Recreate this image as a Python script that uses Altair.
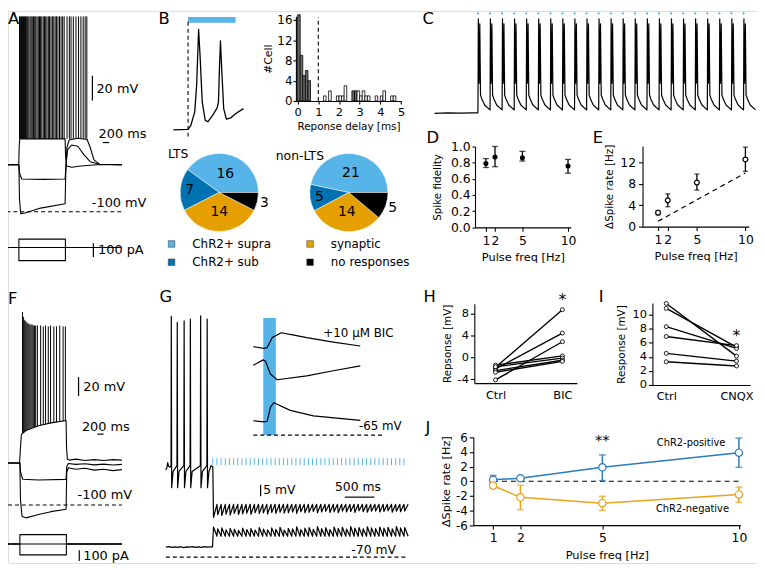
import math
import altair as alt
import pandas as pd

FONT = "DejaVu Sans"
W, H = 757, 558
M = 8
BLACK = "#000000"
SKY = "#56B4E9"
NAVY = "#0072B2"
ORANGE = "#E69F00"
J_BLUE = "#2B7CB9"
J_ORANGE = "#E9A41C"
HIST_GRAY = "#6b6b6b"
HYPHEN_LABELS = "replace(datum.label, '\u2212', '-')"

# ======================= DATA =======================
# ---- A : LTS cell, current steps (t ms, v mV) ----
A_dep = [(-400, -62), (-5, -62), (10, -47), (30, -41), (1490, -41), (1505, -55), (1540, -63),
         (1700, -64), (2000, -63), (2500, -62), (3320, -62)]
A_mid = [(-400, -62), (0, -62), (25, -69), (90, -73.5), (800, -73.8), (1490, -73.5), (1520, -62),
         (1570, -50), (1700, -46), (1900, -47), (2100, -54), (2300, -59.5), (2600, -61.5), (3320, -62)]
A_hyp = [(-400, -62), (0, -62), (20, -90), (60, -101.5), (200, -101), (700, -97), (1490, -93.5),
         (1510, -70), (1550, -48), (1620, -42), (1900, -40.5), (2200, -41.5), (2300, -48),
         (2420, -58), (2600, -61.5), (3320, -62)]
A_step_spikes = [20, 50, 85, 115, 150, 180, 215, 250, 285, 320, 360, 395, 430, 470, 510, 545, 585,
                 625, 665, 700, 740, 785, 825, 865, 905, 950, 990, 1035, 1080, 1125, 1170, 1215,
                 1260, 1310, 1360, 1410, 1460]
A_rebound_spikes = [1553, 1627, 1681, 1755, 1841, 1924, 2000, 2073, 2137, 2191]
A_spike_base, A_spike_peak = -41, 58
A_cur_pos = [(-400, 0), (0, 0), (0, 60), (1500, 60), (1500, 0), (3320, 0)]
A_cur_zero = [(-400, 0), (3320, 0)]
A_cur_neg = [(-400, 0), (0, 0), (0, -95), (1500, -95), (1500, 0), (3320, 0)]

# ---- F : non-LTS cell ----
F_dep = [(-380, -56), (-10, -56), (15, -42), (50, -26), (200, -22), (600, -17), (1000, -14),
         (1490, -11.5), (1505, -40), (1530, -52), (1600, -53), (1800, -52), (2100, -53.5),
         (2400, -52.5), (2700, -53.5), (3000, -52.5), (3290, -53)]
F_mid = [(-380, -56), (0, -56), (25, -66), (90, -73), (600, -73.8), (1490, -73.2), (1510, -60),
         (1560, -56.5), (1800, -57.5), (2100, -56.8), (2400, -58), (2700, -57.2), (3000, -58.2),
         (3290, -57.5)]
F_hyp = [(-380, -56), (0, -56), (20, -95), (70, -112), (200, -113.5), (600, -110), (1000, -107),
         (1490, -104.5), (1510, -66), (1560, -61), (1800, -62.5), (2100, -61.5), (2400, -63.5),
         (2700, -62.5), (3000, -64), (3290, -63)]
F_spike_t = [86, 112, 140, 168, 198, 228, 260, 292, 326, 360, 396, 432, 470, 510,
             565, 670, 756, 829, 916, 989, 1095, 1180, 1286, 1394, 1467]
F_spike_base = [-25, -24, -23, -22.5, -22, -21.5, -21, -20.5, -20, -19.5, -19, -18.5, -18.5, -18,
                -17.5, -16.5, -16, -15.5, -15, -14.5, -14, -13.5, -13, -12.5, -12]
F_spike_peak = [102, 97, 94, 93, 92, 91, 90, 90, 89, 89, 89, 88, 88, 88,
                88, 88, 87, 88, 87, 88, 87, 87, 88, 87, 87]
F_cur_pos = [(-380, 0), (0, 0), (0, 88), (1500, 88), (1500, 0), (3290, 0)]
F_cur_zero = [(-380, 0), (3290, 0)]
F_cur_neg = [(-380, 0), (0, 0), (0, -103), (1500, -103), (1500, 0), (3290, 0)]

# ---- B : ChR2 response (t ms, v mV) and latency histogram ----
B_trace = [(-1.56, -65.3), (0, -64.7), (0.28, -61), (0.7, -47), (0.9, -20.3), (1.11, 36.3),
           (1.28, 6.3), (1.49, -37), (1.8, -55.3), (2.08, -57), (2.6, -50.3), (3.06, -43),
           (3.2, -37), (3.3, -3.7), (3.41, 24.7), (3.54, -3.7), (3.75, -43.7), (4.03, -54.3),
           (4.51, -53), (5.03, -48.7), (5.83, -43.7)]
B_light = (0, 5)
HIST_START = [0.0, 0.125, 0.25, 0.375, 0.5, 1.25, 1.5, 1.875, 2.0, 2.125, 2.25, 2.625, 2.75,
              2.875, 3.0, 3.125, 3.25, 3.375, 3.75, 4.0, 4.125, 4.5, 4.625]
HIST_COUNT = [17, 9, 5, 6, 4, 1, 2, 1, 1, 1, 3, 2, 2, 2, 1, 2, 1, 1, 1, 1, 2, 1, 1]
HIST_FILLED = [1, 1, 1, 1, 1, 0, 0, 0, 0, 0, 0, 1, 1, 0, 0, 0, 0, 0, 0, 0, 0, 0, 0]
HIST_BIN = 0.125

PIE_CATS = ["ChR2+ supra", "ChR2+ sub", "synaptic", "no responses"]
PIE_COLORS = [SKY, NAVY, ORANGE, BLACK]
PIE_ORDER = [3, 2, 1, 0]
LTS_COUNTS = [16, 7, 14, 3]
NONLTS_COUNTS = [21, 5, 14, 5]

# ---- C : 10 Hz train ----
C_pulses = [0, 100, 200, 300, 400, 500, 600, 700, 800, 900, 1000, 1100, 1200, 1300, 1400, 1500,
            1600, 1700, 1800, 1900, 2000, 2100, 2200]
C_wave = [(0, -67), (3, 25), (9, -40), (15, 20), (21, -52), (32, -56), (55, -62), (99, -67)]
C_pre = [(-360, -70.5), (-250, -70), (-150, -70.3), (-50, -70), (-2, -70)]

# ---- D / E ----
FREQ = [1, 2, 5, 10]
D_mean = [0.79, 0.87, 0.86, 0.76]
D_lo = [0.74, 0.75, 0.82, 0.67]
D_hi = [0.85, 1.0, 0.94, 0.84]
E_mean = [2.6, 4.9, 8.2, 12.5]
E_lo = [2.2, 3.7, 6.8, 10.3]
E_hi = [3.0, 6.1, 9.8, 14.8]
E_unity = [(1, 1), (10, 10)]

# ---- G : ChR2-pos / ChR2-neg at 14 Hz ----
G_pulses = [0, 70, 140, 210, 280, 350, 420, 490, 560, 630, 700, 770, 840, 910, 980, 1050, 1120,
            1190, 1260, 1330, 1400, 1470, 1540, 1610, 1680, 1750, 1820, 1890, 1960, 2030, 2100,
            2170, 2240, 2310, 2380, 2450, 2520, 2590, 2660, 2730, 2800, 2870, 2940, 3010, 3080,
            3150, 3220]
G_up_pre = [(-795, -32.3), (-775, -31.6), (-760, -29.2), (-745, -30.8), (-720, -31.2)]
G_up_spikes = [-699, -599, -483, -378, -205, -95]
G_up_peaks = [34.0, 31.4, 32.1, 32.8, 34.2, 32.8]
G_up_post = [(-30, -30.5), (0, -31)]
G_up_amp = [5.7, 4.5, 4.8, 4.2, 4.6, 3.9, 4.4, 4.1, 3.8, 4.3, 3.6, 4.0, 3.7, 4.2, 3.5, 3.9, 3.4,
            3.8, 3.6, 3.3, 3.9, 3.2, 3.6, 3.4, 3.1, 3.7, 3.3, 3.0, 3.5, 3.2, 3.6, 2.9, 3.3, 3.1,
            3.5, 2.8, 3.2, 3.4, 3.0, 2.9, 3.3, 3.1, 2.8, 3.4, 3.0, 3.2, 2.9]
G_up_rest = -47.2
G_lo_pre = [(-790, -65.7), (-740, -65.5), (-690, -65.8), (-640, -65.6), (-590, -65.8),
            (-540, -65.5), (-490, -65.9), (-440, -65.6), (-390, -65.7), (-340, -65.5),
            (-290, -65.8), (-240, -65.6), (-190, -65.8), (-140, -65.5), (-90, -65.7),
            (-40, -65.6), (-5, -65.6)]
G_lo_amp = [4.0, 3.2, 3.6, 2.8, 3.4, 3.0, 2.6, 3.5, 2.9, 3.3, 2.7, 3.8, 3.1, 2.8, 3.6, 3.0, 3.9,
            2.7, 3.4, 3.2, 4.1, 2.9, 3.5, 3.8, 3.0, 4.2, 3.3, 3.7, 2.9, 4.0, 3.4, 3.9, 3.1, 4.3,
            3.5, 3.8, 3.2, 4.1, 3.6, 3.3, 4.0, 3.5, 3.9, 3.2, 4.2, 3.6, 3.8]
G_lo_rest = -61.0
# inset (t ms, v mV)
Gi_top = [(-7.9, -26.8), (0.55, -27.5), (3.15, -27.2), (7.1, -22.9), (14.2, -20.8), (24.4, -21.8),
          (34.6, -22.9), (55.7, -24.8), (77.2, -26.5)]
Gi_mid = [(-7.9, -34.8), (0, -32.5), (1.8, -33.1), (5.7, -38.6), (11, -41.1), (34.6, -39.4),
          (55.7, -37.2), (77.2, -35.1)]
Gi_bot = [(-7.9, -58.8), (0.55, -59.3), (3.15, -59.0), (5.7, -52.9), (8.4, -51.0), (21.5, -54.3),
          (39.9, -56.7), (77.2, -58.6)]
Gi_light = (0, 10)

# ---- H / I ----
H_ctrl = [-1.8, -2.1, -4.1, -1.4, -1.7, -2.4, -2.7]
H_bic = [8.8, 4.5, 2.9, 0.3, -0.1, -0.5, -0.7]
I_ctrl = [11.6, 10.9, 8.3, 6.9, 4.5, 3.3]
I_cnqx = [4.1, 5.4, 5.2, 5.6, 3.4, 2.7]

# ---- J ----
J_pos = [0.2, 0.4, 1.9, 3.9]
J_pos_lo = [-0.3, 0.2, 0.1, 1.9]
J_pos_hi = [0.8, 0.6, 3.6, 5.9]
J_neg = [-0.6, -2.2, -3.0, -1.8]
J_neg_lo = [-0.9, -3.9, -4.0, -2.9]
J_neg_hi = [-0.3, -0.55, -2.05, -0.8]

# ======================= HELPERS =======================
def sc(domain, r0, r1):
    return alt.Scale(domain=list(domain), range=[r0 - M, r1 - M], nice=False, zero=False)


def xs(d, a_val, a_px, ppu):
    return sc(d, a_px + (d[0] - a_val) * ppu, a_px + (d[1] - a_val) * ppu)


def ys(d, a_val, a_px, ppu):
    return sc(d, a_px - (d[0] - a_val) * ppu, a_px - (d[1] - a_val) * ppu)


def ax(orient, pos, values, title=None, label_size=12, title_size=11, tick_size=4,
       label_pad=2, title_pad=4, fmt=None, label_expr=None, ticks=True):
    off = (pos - M) - H if orient == "bottom" else -(pos - M)
    kw = dict(orient=orient, offset=off, values=values, title=title, grid=False, ticks=ticks,
              tickSize=tick_size, tickWidth=1.1, domainWidth=1.1, domainColor=BLACK,
              tickColor=BLACK, labelColor=BLACK, titleColor=BLACK, labelFont=FONT,
              titleFont=FONT, labelFontSize=label_size, titleFontSize=title_size,
              titleFontWeight="normal", labelPadding=label_pad, titlePadding=title_pad,
              labelFlush=False, labelOverlap=False, labelBound=False)
    if fmt:
        kw["format"] = fmt
    if label_expr:
        kw["labelExpr"] = label_expr
    return alt.Axis(**kw)


def trace_df(series):
    rows = []
    for name, pts in series.items():
        for i, (x, y) in enumerate(pts):
            rows.append({"s": name, "i": i, "x": x, "y": y})
    return pd.DataFrame(rows)


def line_layer(series, xsc, ysc, color=BLACK, width=1.0, dash=None, x_axis=None, y_axis=None):
    mk = dict(color=color, strokeWidth=width, strokeJoin="round")
    if dash:
        mk["strokeDash"] = dash
    return alt.Chart(trace_df(series)).mark_line(**mk).encode(
        x=alt.X("x:Q", scale=xsc, axis=x_axis), y=alt.Y("y:Q", scale=ysc, axis=y_axis),
        order="i:Q", detail="s:N")


def rule_layer(df, xsc, ysc, color=BLACK, width=1.0, dash=None):
    mk = dict(color=color, strokeWidth=width)
    if dash:
        mk["strokeDash"] = dash
    enc = dict(x=alt.X("x:Q", scale=xsc, axis=None), y=alt.Y("y:Q", scale=ysc, axis=None))
    if "x2" in df.columns:
        enc["x2"] = "x2:Q"
    if "y2" in df.columns:
        enc["y2"] = "y2:Q"
    return alt.Chart(df).mark_rule(**mk).encode(**enc)


def text_layer(rows, xsc, ysc, size, align="left", baseline="middle", color=BLACK):
    df = pd.DataFrame(rows, columns=["x", "y", "t"])
    return alt.Chart(df).mark_text(align=align, baseline=baseline, fontSize=size, font=FONT,
                                   color=color).encode(
        x=alt.X("x:Q", scale=xsc, axis=None), y=alt.Y("y:Q", scale=ysc, axis=None), text="t:N")


def hline(x0, x1, y):
    return pd.DataFrame({"x": [x0], "x2": [x1], "y": [y]})


def vline(x, y0, y1):
    return pd.DataFrame({"x": [x], "y": [y0], "y2": [y1]})


L = []

# ======================= PANEL A =======================
A_x = xs([-450, 3320], 0, 19, 1 / 31.9)
A_y = ys([-110, 70], -100, 211, 1.25)
A_i = ys([-150, 150], 0, 247, 0.14)
L.append(line_layer({"dep": A_dep, "mid": A_mid, "hyp": A_hyp}, A_x, A_y, width=1.1))
spk = pd.DataFrame({"x": A_step_spikes + A_rebound_spikes,
                    "y": [A_spike_base] * (len(A_step_spikes) + len(A_rebound_spikes)),
                    "y2": [A_spike_peak] * (len(A_step_spikes) + len(A_rebound_spikes))})
L.append(rule_layer(spk, A_x, A_y, width=1.0))
L.append(rule_layer(hline(-400, 3320, -100), A_x, A_y, width=1.1, dash=[4, 3]))
L.append(line_layer({"p": A_cur_pos, "z": A_cur_zero, "n": A_cur_neg}, A_x, A_i, width=1.1))
L.append(rule_layer(vline(2370, -10, 10), A_x, A_y, width=1.2))
L.append(rule_layer(hline(2711, 2911, -44), A_x, A_y, width=1.2))
L.append(rule_layer(vline(2402, -70, 30), A_x, A_i, width=1.2))
L.append(text_layer([(2500, -1, "20 mV"), (2568, -37, "200 ms"), (2351, -92.6, "-100 mV")],
                    A_x, A_y, 13))
L.append(text_layer([(2553, -21, "100 pA")], A_x, A_i, 13))

# ======================= PANEL F =======================
F_x = xs([-480, 3290], 0, 20, 1 / 31.9)
F_y = ys([-120, 110], -100, 507.3, 0.965)
F_i = ys([-200, 200], 0, 546.7, 0.107)
L.append(line_layer({"dep": F_dep, "mid": F_mid, "hyp": F_hyp}, F_x, F_y, width=1.1))
L.append(rule_layer(pd.DataFrame({"x": F_spike_t, "y": F_spike_base, "y2": F_spike_peak}),
                    F_x, F_y, width=1.0))
L.append(rule_layer(hline(-380, 3290, -100), F_x, F_y, width=1.1, dash=[4, 3]))
L.append(line_layer({"p": F_cur_pos, "z": F_cur_zero, "n": F_cur_neg}, F_x, F_i, width=1.1))
L.append(rule_layer(vline(1892, 14, 34), F_x, F_y, width=1.2))
L.append(rule_layer(hline(2498, 2698, -25.8), F_x, F_y, width=1.2))
L.append(rule_layer(vline(1914, -160, -60), F_x, F_i, width=1.2))
L.append(text_layer([(2042, 24, "20 mV"), (2000, -18, "200 ms"), (1860, -89.6, "-100 mV")],
                    F_x, F_y, 13))
L.append(text_layer([(2042, -112, "100 pA")], F_x, F_i, 13))

# ======================= PANEL B =======================
B_x = xs([-1.6, 5.9], 0, 190, 9.6)
B_y = ys([-80, 50], 0, 63, 1.0)
L.append(alt.Chart(pd.DataFrame({"x": [B_light[0]], "x2": [B_light[1]], "y": [43], "y2": [49]}))
         .mark_rect(color=SKY).encode(x=alt.X("x:Q", scale=B_x, axis=None), x2="x2:Q",
                                      y=alt.Y("y:Q", scale=B_y, axis=None), y2="y2:Q"))
L.append(rule_layer(vline(0, -72, 46), B_x, B_y, width=1.1, dash=[4, 3]))
L.append(line_layer({"b": B_trace}, B_x, B_y, width=1.3))

Bh_x = xs([-0.08, 5.0], 0, 300.7, 20.9)
Bh_y = ys([0, 16.7], 0, 99, 5.125)
hist = pd.DataFrame({"x": HIST_START, "x2": [s + HIST_BIN for s in HIST_START],
                     "y": HIST_COUNT, "y2": [0] * len(HIST_START), "filled": HIST_FILLED})
L.append(alt.Chart(hist).mark_bar(stroke=BLACK, strokeWidth=0.8).encode(
    x=alt.X("x:Q", scale=Bh_x,
            axis=ax("bottom", 99, [0, 1, 2, 3, 4, 5], "Reponse delay [ms]", label_size=11.5,
                    title_size=10.5, tick_size=3, label_pad=3, title_pad=3)),
    x2="x2:Q",
    y=alt.Y("y:Q", scale=Bh_y,
            axis=ax("left", 299, [0, 4, 8, 12, 16], "#Cell", label_size=12, title_size=11,
                    tick_size=3, label_pad=1, title_pad=3)),
    y2="y2:Q",
    fill=alt.condition(alt.datum.filled == 1, alt.value(HIST_GRAY), alt.value("white"))))
L.append(rule_layer(vline(1, 0, 16.5), Bh_x, Bh_y, width=1.1, dash=[4, 3]))

# pies
THETA = alt.Scale(range=[math.pi / 2, math.pi / 2 + 2 * math.pi])
COL = alt.Color("cat:N", scale=alt.Scale(domain=PIE_CATS, range=PIE_COLORS), legend=None)
PIE_R = 39.5
for counts, cx, cy in [(LTS_COUNTS, 221.5, 191.5), (NONLTS_COUNTS, 352.5, 191.5)]:
    pdf = pd.DataFrame({"cat": PIE_CATS, "n": counts, "o": PIE_ORDER})
    base = alt.Chart(pdf).encode(theta=alt.Theta("n:Q", stack=True, scale=THETA),
                                 order=alt.Order("o:Q"),
                                 x=alt.value(cx - M), y=alt.value(cy - M))
    L.append(base.mark_arc(radius=PIE_R, stroke="white", strokeWidth=0.5).encode(color=COL))
    for rad, cats in [(20, ["ChR2+ supra", "synaptic"]), (30, ["ChR2+ sub"]),
                      (47, ["no responses"])]:
        pred = alt.FieldOneOfPredicate(field="cat", oneOf=cats)
        L.append(base.mark_text(radius=rad, fontSize=14, font=FONT, color=BLACK).encode(
            text="n:Q", opacity=alt.condition(pred, alt.value(1), alt.value(0))))

# pie legend
leg_x = sc([0, 1], 173.3, 313.3)
leg_y = sc([0, 1], 243.5, 262)
leg = pd.DataFrame({"cat": ["ChR2+ supra", "synaptic", "ChR2+ sub", "no responses"],
                    "col": [0, 1, 0, 1], "row": [0, 0, 1, 1]})
L.append(alt.Chart(leg).mark_square(size=44, opacity=1, stroke="#333333", strokeWidth=0.5).encode(
    x=alt.X("col:Q", scale=leg_x, axis=None), y=alt.Y("row:Q", scale=leg_y, axis=None),
    color=COL))
L.append(alt.Chart(leg).mark_text(align="left", baseline="middle", dx=21, fontSize=12,
                                  font=FONT, color=BLACK).encode(
    x=alt.X("col:Q", scale=leg_x, axis=None), y=alt.Y("row:Q", scale=leg_y, axis=None),
    text="cat:N"))

# ======================= PANEL C =======================
C_x = xs([-360, 2300], 0, 483, 0.122)
C_y = ys([-75, 35], -70, 111, 1.0)
C_trace = list(C_pre)
for p in C_pulses:
    C_trace += [(p + dt, v) for dt, v in C_wave]
L.append(line_layer({"c": C_trace}, C_x, C_y, width=1.2))
L.append(alt.Chart(pd.DataFrame({"x": C_pulses, "y": [30.5] * len(C_pulses)}))
         .mark_circle(size=5, color=SKY, opacity=1).encode(
    x=alt.X("x:Q", scale=C_x, axis=None), y=alt.Y("y:Q", scale=C_y, axis=None)))


# ======================= PANEL D / E =======================
def err_layers(xsc, ysc, means, lo, hi, color, cap, filled, size, x_axis=None, y_axis=None,
               width=1.3):
    df = pd.DataFrame({"x": FREQ, "y": means, "lo": lo, "hi": hi})
    out = [alt.Chart(df).mark_rule(color=color, strokeWidth=width).encode(
        x=alt.X("x:Q", scale=xsc, axis=None), y=alt.Y("lo:Q", scale=ysc, axis=None), y2="hi:Q")]
    for f in ["lo", "hi"]:
        out.append(alt.Chart(df).mark_tick(orient="horizontal", size=cap, thickness=width,
                                           color=color).encode(
            x=alt.X("x:Q", scale=xsc, axis=None), y=alt.Y(f + ":Q", scale=ysc, axis=None)))
    out.append(alt.Chart(df).mark_point(shape="circle", filled=filled, size=size, color=color,
                                        opacity=1, strokeWidth=1.2,
                                        fill=color if filled else "white").encode(
        x=alt.X("x:Q", scale=xsc, axis=x_axis), y=alt.Y("y:Q", scale=ysc, axis=y_axis)))
    return out


D_x = xs([-0.2, 10.3], 1, 491, 9.222)
D_y = ys([0, 1.0], 0, 226.7, 81.7)
L += err_layers(D_x, D_y, D_mean, D_lo, D_hi, BLACK, 6, True, 26,
                x_axis=ax("bottom", 226.7, FREQ, "Pulse freq [Hz]", label_size=12.5,
                          title_size=11.5, tick_size=4, label_pad=3, title_pad=5),
                y_axis=ax("left", 480, [0, 0.2, 0.4, 0.6, 0.8, 1.0], "Spike fidelity",
                          label_size=12.5, title_size=10.5, tick_size=3, label_pad=2,
                          title_pad=8, fmt=".1f"))

E_x = xs([-0.6, 10.35], 1, 665, 9.81)
E_y = ys([0, 15], 0, 226, 5.43)
L.append(line_layer({"u": E_unity}, E_x, E_y, width=1.2, dash=[5, 4]))
L += err_layers(E_x, E_y, E_mean, E_lo, E_hi, BLACK, 5, False, 24,
                x_axis=ax("bottom", 226, FREQ, "Pulse freq [Hz]", label_size=12.5,
                          title_size=11.5, tick_size=4, label_pad=3, title_pad=5),
                y_axis=ax("left", 649.3, [0, 4, 8, 12], "ΔSpike rate [Hz]", label_size=12.5,
                          title_size=10.5, tick_size=4, label_pad=3, title_pad=5))

# ======================= PANEL G =======================
G_x = xs([-800, 3300], 0, 215, 0.06)
G_y = ys([-72, 40], -70, 560, 2.34)
up = list(G_up_pre)
for s, pk in zip(G_up_spikes, G_up_peaks):
    up += [(s - 5, -30.5), (s, pk), (s + 6, -40), (s + 30, -33)]
up += G_up_post
for k, (p, a) in enumerate(zip(G_pulses, G_up_amp)):
    if k > 0:
        up.append((p, G_up_rest))
    up.append((p + 12, G_up_rest - a))
up.append((3290, G_up_rest))
lo = list(G_lo_pre)
for k, (p, a) in enumerate(zip(G_pulses, G_lo_amp)):
    if k > 0:
        lo.append((p, G_lo_rest))
    lo.append((p + 12, G_lo_rest + a))
lo.append((3290, G_lo_rest))
L.append(line_layer({"up": up, "lo": lo}, G_x, G_y, width=1.2))
L.append(rule_layer(pd.DataFrame({"x": G_pulses, "y": [-30.3] * len(G_pulses),
                                  "y2": [-27.3] * len(G_pulses)}), G_x, G_y, color=SKY,
                    width=1.0))
L.append(rule_layer(hline(-790, 3280, -70), G_x, G_y, width=1.1, dash=[4, 3]))
L.append(rule_layer(vline(805, -43.7, -38.7), G_x, G_y, width=1.2))
L.append(rule_layer(hline(2222, 2722, -44.1), G_x, G_y, width=1.2))
L.append(text_layer([(850, -41.2, "5 mV"), (2333, -67.1, "-70 mV")], G_x, G_y, 12.5))
L.append(text_layer([(2445, -39.6, "500 ms")], G_x, G_y, 12.5, align="center"))

Gi_x = xs([-10, 100], 0, 266, 1.27)
Gi_y = ys([-70, -10], -65, 436.7, 2.34)
L.append(alt.Chart(pd.DataFrame({"x": [Gi_light[0]], "x2": [Gi_light[1]], "y": [-65],
                                 "y2": [-14.4]}))
         .mark_rect(color=SKY).encode(x=alt.X("x:Q", scale=Gi_x, axis=None), x2="x2:Q",
                                      y=alt.Y("y:Q", scale=Gi_y, axis=None), y2="y2:Q"))
L.append(line_layer({"t": Gi_top, "m": Gi_mid, "b": Gi_bot}, Gi_x, Gi_y, width=1.2))
L.append(rule_layer(hline(-7.9, 95, -65), Gi_x, Gi_y, width=1.1, dash=[4, 3]))
L.append(text_layer([(76.1, -61, "-65 mV"), (47.8, -20.8, "+10 μM BIC")], Gi_x, Gi_y, 12))


# ======================= PANEL H / I =======================
def pair_layers(xsc, ysc, a, b, x_axis, y_axis):
    rows = []
    for k, (u, v) in enumerate(zip(a, b)):
        rows += [{"id": k, "x": 0, "y": u}, {"id": k, "x": 1, "y": v}]
    df = pd.DataFrame(rows)
    return [alt.Chart(df).mark_line(color=BLACK, strokeWidth=1.4).encode(
                x=alt.X("x:Q", scale=xsc, axis=x_axis), y=alt.Y("y:Q", scale=ysc, axis=y_axis),
                detail="id:N"),
            alt.Chart(df).mark_point(shape="circle", filled=False, size=16, color=BLACK,
                                     fill="white", opacity=1, strokeWidth=0.9).encode(
                x=alt.X("x:Q", scale=xsc, axis=None), y=alt.Y("y:Q", scale=ysc, axis=None))]


H_x = xs([-0.317, 1.217], 0, 500.7, 67.6)
H_y = ys([-4.7, 9.9], 0, 358.3, 5.5)
L += pair_layers(H_x, H_y, H_ctrl, H_bic,
                 ax("bottom", 384.2, [0, 1], None, label_size=11.5, ticks=False, label_pad=6,
                    label_expr="datum.value == 0 ? 'Ctrl' : 'BIC'"),
                 ax("left", 479.3, [-4, 0, 4, 8], "Repsonse [mV]", label_size=11.5,
                    title_size=10.5, tick_size=4, label_pad=2, title_pad=5,
                    label_expr=HYPHEN_LABELS))
L.append(text_layer([(1, 10.6, "*")], H_x, H_y, 16, align="center"))

I_x = xs([-0.197, 1.193], 0, 673.3, 71)
I_y = ys([0, 11.65], 0, 386, 7.1)
L += pair_layers(I_x, I_y, I_ctrl, I_cnqx,
                 ax("bottom", 386, [0, 1], None, label_size=11.5, ticks=False, label_pad=6,
                    label_expr="datum.value == 0 ? 'Ctrl' : 'CNQX'"),
                 ax("left", 659.3, [0, 2, 4, 6, 8, 10], "Response [mV]", label_size=11.5,
                    title_size=10.5, tick_size=4, label_pad=2, title_pad=6))
L.append(text_layer([(1, 7.0, "*")], I_x, I_y, 16, align="center"))

# ======================= PANEL J =======================
J_x = xs([0.275, 10.05], 1, 498.3, 27.6)
J_y = ys([-6, 6], 0, 483.3, 7.4)
L.append(rule_layer(hline(1, 10, 0), J_x, J_y, width=1.2, dash=[5, 4]))
for means, lo_, hi_, col in [(J_pos, J_pos_lo, J_pos_hi, J_BLUE),
                             (J_neg, J_neg_lo, J_neg_hi, J_ORANGE)]:
    L.append(line_layer({"m": list(zip(FREQ, means))}, J_x, J_y, color=col, width=1.5))
    L += err_layers(J_x, J_y, means, lo_, hi_, col, 7, False, 55, width=1.5)
L.append(alt.Chart(pd.DataFrame({"x": [1], "y": [0]})).mark_point(opacity=0).encode(
    x=alt.X("x:Q", scale=J_x, axis=ax("bottom", 527.7, FREQ, "Pulse freq [Hz]", label_size=12.5,
                                       title_size=11.5, tick_size=4, label_pad=3, title_pad=5)),
    y=alt.Y("y:Q", scale=J_y, axis=ax("left", 478.3, [-6, -4, -2, 0, 2, 4, 6],
                                       "ΔSpike rate [Hz]", label_size=12, title_size=11.3,
                                       tick_size=4, label_pad=2, title_pad=4,
                                       label_expr=HYPHEN_LABELS))))
L.append(text_layer([(8.25, 5.2, "ChR2-positive"), (8.3, -3.8, "ChR2-negative")], J_x, J_y,
                    10, align="center"))
L.append(text_layer([(5, 5.6, "**")], J_x, J_y, 15, align="center"))

# ======================= FIGURE LABELS =======================
fig_x = sc([0, 765], 0, 765)
fig_y = sc([0, 570], 0, 570)
LETTERS = [("A", 8, 21), ("B", 160, 21), ("C", 427, 21), ("D", 431, 141), ("E", 599, 141),
           ("F", 8, 304), ("G", 161, 302), ("H", 428, 302), ("I", 605, 302), ("J", 430, 435)]
L.append(text_layer([(x, y, t) for t, x, y in LETTERS], fig_x, fig_y, 16.5, baseline="alphabetic"))
L.append(text_layer([(180, 153, "LTS"), (303, 155, "non-LTS")], fig_x, fig_y, 12.5,
                    align="center"))

chart = alt.layer(*L).resolve_scale(
    x="independent", y="independent", theta="independent", color="independent"
).properties(width=W, height=H, padding=0, autosize="none", background="white"
).configure_view(stroke=None).configure(font=FONT)

chart.save("out.html", embed_options={"renderer": "svg", "actions": False})
